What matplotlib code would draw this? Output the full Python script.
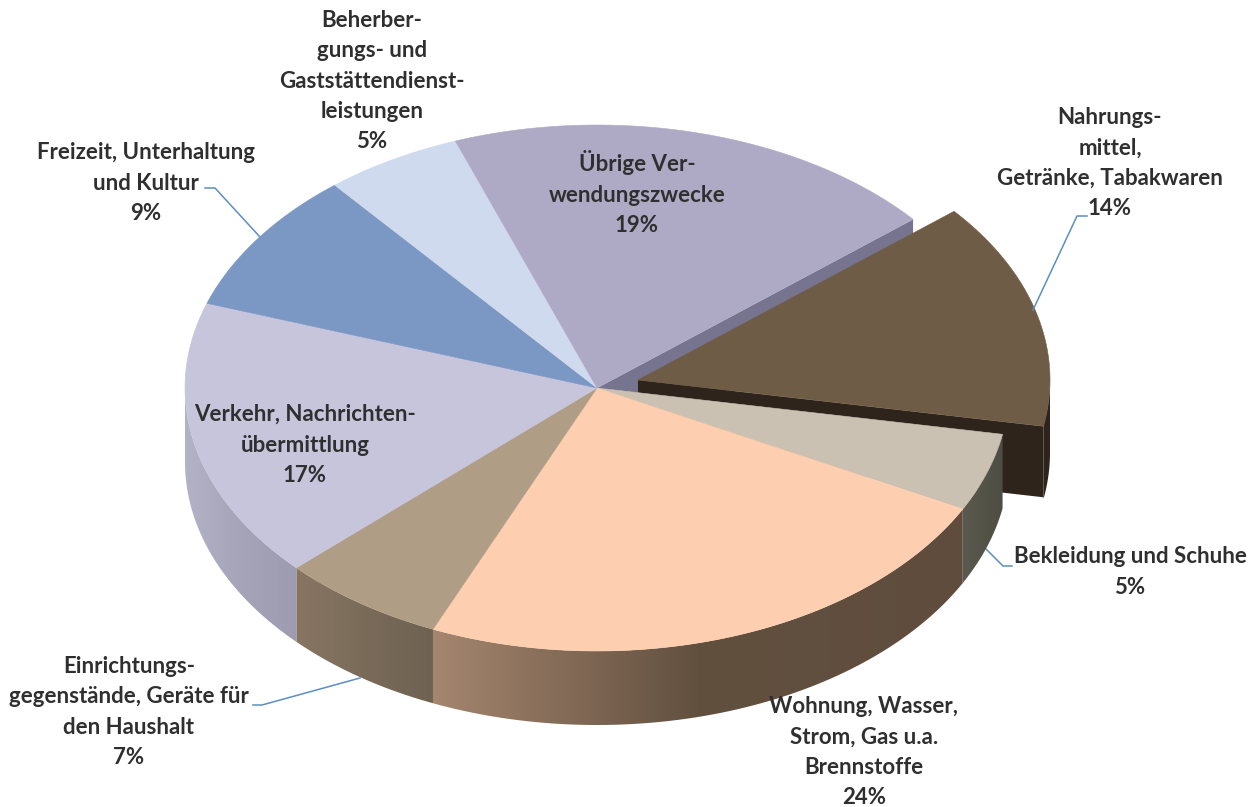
#!/usr/bin/env python3
# Torte mit Scheinperspektive, Anteile der Konsumausgaben.
import numpy as np
import matplotlib
matplotlib.use("Agg")
import matplotlib.pyplot as plt
from matplotlib.colors import LinearSegmentedColormap
from matplotlib.patches import Polygon

# Reihenfolge im Uhrzeigersinn, beginnend beim abgesetzten Stück
labels = [
    "Nahrungs-\nmittel,\nGetränke, Tabakwaren\n14%",
    "Bekleidung und Schuhe\n5%",
    "Wohnung, Wasser,\nStrom, Gas u.a.\nBrennstoffe\n24%",
    "Einrichtungs-\ngegenstände, Geräte für\nden Haushalt\n7%",
    "Verkehr, Nachrichten-\nübermittlung\n17%",
    "Freizeit, Unterhaltung\nund Kultur\n9%",
    "Beherber-\ngungs- und\nGaststättendienst-\nleistungen\n5%",
    "Übrige Ver-\nwendungszwecke\n19%",
]
values = [13.9, 4.8, 23.9, 6.5, 17.2, 8.8, 5.4, 19.5]
top_colors = ["#6f5c47", "#cbc1b2", "#fdcfb0", "#b09d85", "#c7c5dc", "#7b97c3", "#d0daee", "#aeaac6"]
# Mantel: Farbe links / Mitte / rechts
rim_left = ["#2e241c", "#5c5a50", "#a5866f", "#887662", "#b3b2c6", "#5c7194", "#a0a8b8", "#8785a0"]
rim_mid = ["#2e241c", "#555448", "#62503f", "#7a6b59", "#a5a4b8", "#5c7194", "#a0a8b8", "#7e7c98"]
rim_right = ["#2e241c", "#4e4d45", "#5f4c3d", "#6e6252", "#9c9bb0", "#5c7194", "#a0a8b8", "#76748f"]
label_pos = [(1110, 163), (1130, 572), (864, 752), (129, 712), (305, 445), (146, 183), (372, 81), (637, 193)]
leaders = [
    [(1033, 310), (1077, 216), (1087, 216)],
    [(985, 548), (1003, 566), (1012, 566)],
    [(360, 678), (262, 705), (253, 705)],
    [(260, 237), (215, 188), (205, 188)],
]

CX, CY = 597, 388
RX, RY = 412, 263
DEPTH = 74
FIRST_ANGLE = 39.9  # Beginn des ersten Stücks, Grad gegen den Uhrzeigersinn ab 3 Uhr
EXPLODE = (41, -8)


def edge(deg, cx, cy):
    a = np.radians(deg)
    return cx + RX * np.cos(a), cy - RY * np.sin(a)


def draw_rim(ax, a1, a2, colors, cx, cy, zorder):
    # Nur der vordere Teil des Mantels ist sichtbar (sin < 0)
    lo, hi = max(min(a1, a2), -180), min(max(a1, a2), 0)
    if hi <= lo:
        return
    th = np.linspace(lo, hi, 100)
    xs, ys = edge(th, cx, cy)
    poly = Polygon(np.c_[np.r_[xs, xs[::-1]], np.r_[ys, ys[::-1] + DEPTH]],
                   closed=True, fc="none", ec="none", transform=ax.transData)
    ax.add_patch(poly)
    cmap = LinearSegmentedColormap.from_list("rim", colors)
    grad = np.linspace(0, 1, 256).reshape(1, -1)
    im = ax.imshow(grad, cmap=cmap, aspect="auto", interpolation="bilinear",
                   extent=(xs.min() - 0.5, xs.max() + 0.5, ys.max() + DEPTH + 1, ys.min() - 1),
                   zorder=zorder)
    im.set_clip_path(poly)


def draw_top(ax, a1, a2, color, cx, cy, zorder):
    th = np.linspace(a1, a2, 120)
    xs, ys = edge(th, cx, cy)
    ax.fill(np.r_[cx, xs], np.r_[cy, ys], color=color, lw=0.4, zorder=zorder)


fig = plt.figure(figsize=(12.59, 8.07), dpi=100)
ax = fig.add_axes([0, 0, 1, 1])
ax.set_xlim(0, 1259)
ax.set_ylim(807, 0)
ax.set_autoscale_on(False)
ax.axis("off")

# Winkel aus den Werten (Uhrzeigersinn = fallend)
spans = np.array(values) / sum(values) * 360
starts = FIRST_ANGLE - np.r_[0, np.cumsum(spans)]
a_begin, a_end = starts[:-1], starts[1:]

# Schnittfläche von "Übrige" hinter dem abgesetzten Stück
ex, ey = edge(a_begin[0], CX, CY)
ax.fill([CX, ex, ex, CX], [CY, ey, ey + DEPTH, CY + DEPTH], color=rim_right[7], lw=0, zorder=1)

# Abgesetztes Stück
cx0, cy0 = CX + EXPLODE[0], CY + EXPLODE[1]
ex, ey = edge(a_end[0], cx0, cy0)
ax.fill([cx0, ex, ex, cx0], [cy0, ey, ey + DEPTH - 3, cy0 + DEPTH - 3], color=rim_left[0], lw=0, zorder=2)
draw_rim(ax, a_begin[0], a_end[0], (rim_left[0], rim_mid[0], rim_right[0]), cx0, cy0 - 1.5, 2)
draw_top(ax, a_begin[0], a_end[0], top_colors[0], cx0, cy0, 3)

# Restliche Stücke
for i in range(1, len(values)):
    draw_rim(ax, a_begin[i], a_end[i], (rim_left[i], rim_mid[i], rim_right[i]), CX, CY, 4)
for i in range(1, len(values)):
    draw_top(ax, a_begin[i], a_end[i], top_colors[i], CX, CY, 5)

for pts in leaders:
    ax.plot([p[0] for p in pts], [p[1] for p in pts], color="#5b8fc0", lw=1.1, zorder=3.5)

for txt, (x, y) in zip(labels, label_pos):
    ax.text(x, y, txt, ha="center", va="center", family="Lato", weight="bold",
            fontsize=16, color="#2f2f2f", linespacing=1.55, zorder=6)

fig.savefig("out.png", dpi=100, facecolor="white")
